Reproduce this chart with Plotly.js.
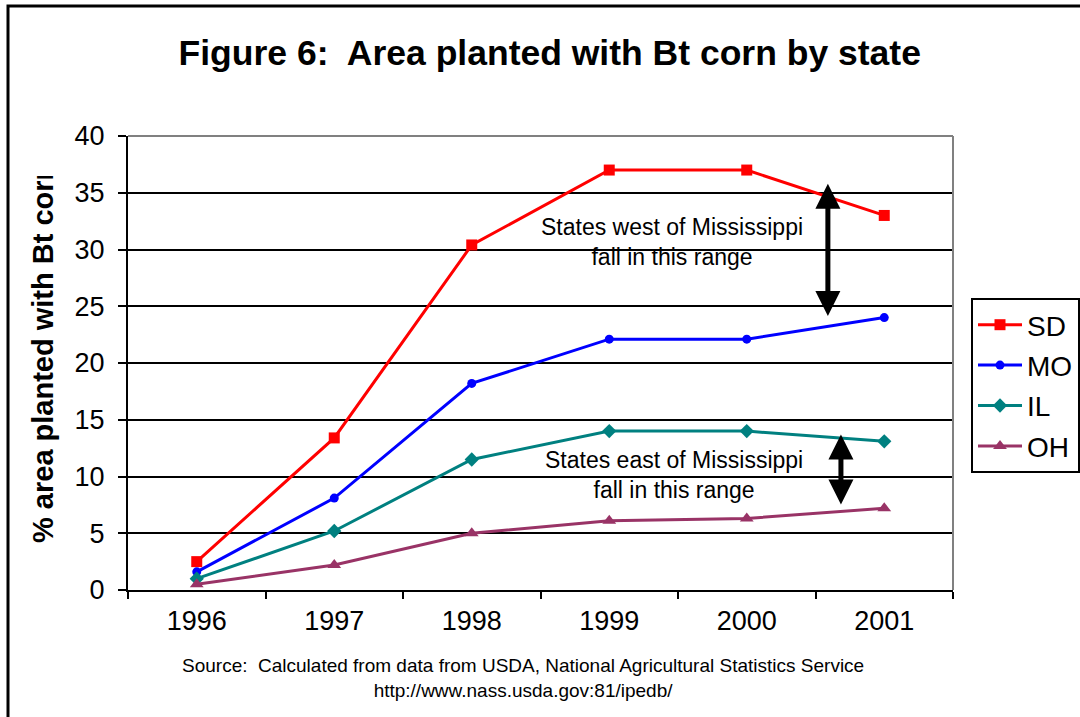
<!DOCTYPE html>
<html>
<head>
<meta charset="utf-8">
<script src="https://cdn.plot.ly/plotly-3.0.1.min.js"></script>
<style>
html,body{margin:0;padding:0;background:#fff;}
#chart{width:1080px;height:717px;}
</style>
</head>
<body>
<div id="chart"></div>
<script>
const years = ["1996", "1997", "1998", "1999", "2000", "2001"];
const sd = [2.5, 13.4, 30.4, 37.0, 37.0, 33.0];
const mo = [1.6, 8.1, 18.2, 22.1, 22.1, 24.0];
const il = [1.0, 5.2, 11.5, 14.0, 14.0, 13.1];
const oh = [0.5, 2.2, 5.0, 6.1, 6.3, 7.2];
const yTicks = [0, 5, 10, 15, 20, 25, 30, 35, 40];

const FONT = "Liberation Sans, Arial, sans-serif";

function series(name, y, color, symbol, size) {
  return {
    x: years, y: y, name: name, legendgroup: name, type: "scatter", mode: "lines+markers",
    line: {color: color, width: 3},
    marker: {color: color, symbol: symbol, size: size, line: {width: 0}}
  };
}

const data = [
  series("SD", sd, "#FF0000", "square", 11),
  series("MO", mo, "#0000FF", "circle", 9),
  series("IL", il, "#008080", "diamond", 11),
  series("OH", oh, "#993366", "triangle-up", 12)
];

const layout = {
  width: 1080, height: 717,
  margin: {l: 128, r: 127, t: 136, b: 127, pad: 0, autoexpand: false},
  paper_bgcolor: "#fff", plot_bgcolor: "#fff",
  font: {family: FONT, color: "#000"},
  title: {text: "<b>Figure 6:  Area planted with Bt corn by state</b>",
          font: {family: FONT, size: 35.5, color: "#000"},
          x: 0.509, xanchor: "center", y: 0.926, yanchor: "middle"},
  showlegend: true,
  legend: {xref: "container", yref: "container", x: 971 / 1080, xanchor: "left",
           y: 1 - 298 / 717, yanchor: "top",
           bordercolor: "#000", borderwidth: 2, bgcolor: "#fff",
           font: {family: FONT, size: 28, color: "#000"},
           itemwidth: 44, tracegroupgap: 1},
  xaxis: {type: "category", tickson: "boundaries", ticks: "outside", ticklen: 7,
          tickwidth: 2, tickcolor: "#000", showline: true, linecolor: "#000", linewidth: 2,
          showgrid: false, zeroline: false, tickfont: {family: FONT, size: 27, color: "#000"},
          ticklabelstandoff: 6, range: [-0.5, 5.5], fixedrange: true},
  yaxis: {range: [0, 40], tickvals: yTicks, ticks: "outside", ticklen: 8, tickwidth: 2,
          tickcolor: "#000", showline: true, linecolor: "#000", linewidth: 2,
          showgrid: true, gridcolor: "#000", gridwidth: 2, zeroline: false,
          ticklabelstandoff: 8,
          tickfont: {family: FONT, size: 27, color: "#000"}, fixedrange: true},
  shapes: [
    {type: "line", xref: "paper", yref: "paper", x0: 0, x1: 1, y0: 1, y1: 1,
     line: {color: "#808080", width: 2}, layer: "above"},
    {type: "line", xref: "paper", yref: "paper", x0: 1, x1: 1, y0: 0, y1: 1,
     line: {color: "#808080", width: 2}, layer: "above"},
    {type: "rect", xref: "paper", yref: "paper",
     x0: (8 - 128) / 825, x1: 1.3, y0: (590 - 6) / 454, y1: -0.6,
     line: {color: "#000", width: 3}, fillcolor: "rgba(0,0,0,0)", layer: "below"}
  ],
  annotations: [
    {text: "<b>% area planted with Bt corn</b>", xref: "paper", yref: "paper",
     x: (43 - 128) / 825, y: (590 - 353) / 454, textangle: -90, showarrow: false,
     font: {family: FONT, size: 29, color: "#000"}, xanchor: "center", yanchor: "middle"},
    {text: "", xref: "paper", yref: "paper", x: (43 - 128) / 825, y: (590 - 176) / 454,
     xanchor: "center", yanchor: "bottom", showarrow: false, bgcolor: "#fff",
     width: 40, height: 30, borderpad: 0, borderwidth: 0},
    {text: "States west of Mississippi<br>fall in this range", x: 3.456, y: 30.66,
     xref: "x", yref: "y", showarrow: false, align: "center",
     font: {family: FONT, size: 23, color: "#000"}},
    {text: "States east of Mississippi<br>fall in this range", x: 3.47, y: 10.1,
     xref: "x", yref: "y", showarrow: false, align: "center",
     font: {family: FONT, size: 23, color: "#000"}},
    {x: 4.59, y: 35.8, ax: 4.59, ay: 24.0, xref: "x", yref: "y", axref: "x", ayref: "y",
     text: "", showarrow: true, arrowhead: 2, startarrowhead: 2, arrowside: "end+start",
     arrowwidth: 5, arrowsize: 1, startarrowsize: 1, arrowcolor: "#000", standoff: 0, startstandoff: 0},
    {x: 4.685, y: 13.7, ax: 4.685, ay: 7.4, xref: "x", yref: "y", axref: "x", ayref: "y",
     text: "", showarrow: true, arrowhead: 2, startarrowhead: 2, arrowside: "end+start",
     arrowwidth: 5, arrowsize: 1, startarrowsize: 1, arrowcolor: "#000", standoff: 0, startstandoff: 0},
    {text: "Source:  Calculated from data from USDA, National Agricultural Statistics Service<br>http://www.nass.usda.gov:81/ipedb/",
     xref: "paper", yref: "paper", x: (523 - 128) / 825, y: (590 - 677.5) / 454,
     showarrow: false, align: "center", font: {family: FONT, size: 19, color: "#000"},
     xanchor: "center", yanchor: "middle"}
  ]
};

Plotly.newPlot("chart", data, layout, {displayModeBar: false, staticPlot: true});
</script>
</body>
</html>
